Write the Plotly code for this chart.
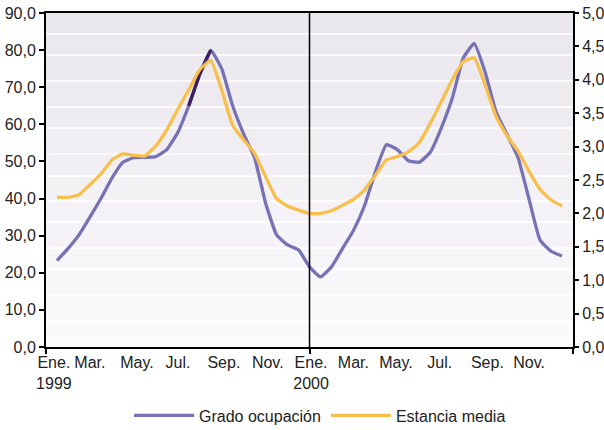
import plotly.graph_objects as go

# ---- data (half-month steps, Jan 1999 .. Dec 2000) ----
months_idx = [i / 2 for i in range(47)]  # 0 = Ene. 1999, 23 = Dic. 2000

grado_ocupacion = [
    23.3, 26.5, 30.2, 35.0, 40.0, 45.5, 49.8, 51.0, 51.1, 51.3,
    53.2, 57.8, 65.0, 73.5, 80.0, 75.0, 65.0, 57.4, 51.0, 38.8,
    30.2, 27.5, 26.2, 21.6, 18.9, 21.6, 26.5, 31.4, 38.0, 47.2,
    54.5, 53.2, 50.2, 49.8, 52.5, 59.0, 67.0, 77.8, 81.8, 74.0,
    63.3, 57.2, 51.0, 39.8, 28.8, 25.8, 24.5,
]

estancia_media = [
    2.24, 2.24, 2.28, 2.43, 2.59, 2.80, 2.89, 2.87, 2.86, 3.01,
    3.25, 3.56, 3.85, 4.15, 4.29, 3.85, 3.32, 3.10, 2.90, 2.55,
    2.22, 2.11, 2.05, 2.00, 2.00, 2.04, 2.12, 2.21, 2.35, 2.57,
    2.80, 2.85, 2.92, 3.06, 3.35, 3.67, 4.00, 4.27, 4.33, 3.92,
    3.45, 3.16, 2.93, 2.63, 2.36, 2.20, 2.11,
]

# dark highlighted stretch of the occupancy line (Jul-Aug 1999)
highlight_start, highlight_end = 12, 15

tick_positions = [-0.14, 1.5, 3.64, 5.51, 7.6, 9.6, 11.57, 13.5, 15.44, 17.43, 19.6, 21.5]
tick_labels = ["Ene.<br>1999", "Mar.", "May.", "Jul.", "Sep.", "Nov.",
               "Ene.<br>2000", "Mar.", "May.", "Jul.", "Sep.", "Nov."]
year_bounds = [-0.5, 11.5, 23.5]

left_ticks = [0, 10, 20, 30, 40, 50, 60, 70, 80, 90]
right_ticks = [0, 0.5, 1, 1.5, 2, 2.5, 3, 3.5, 4, 4.5, 5]

PURPLE = "#7772B6"
DARK = "#3B1F5E"
YELLOW = "#F9BF4C"
FONT = "Liberation Sans, Arial, sans-serif"

fig = go.Figure()
fig.add_trace(go.Scatter(
    x=months_idx, y=grado_ocupacion, mode="lines", name="Grado ocupación",
    line=dict(color=PURPLE, width=3.3, shape="spline", smoothing=0.4),
))
fig.add_trace(go.Scatter(
    x=months_idx[highlight_start:highlight_end], y=grado_ocupacion[highlight_start:highlight_end],
    mode="lines", showlegend=False, hoverinfo="skip",
    line=dict(color=DARK, width=3.3),
))
fig.add_trace(go.Scatter(
    x=months_idx, y=estancia_media, mode="lines", name="Estancia media", yaxis="y2",
    line=dict(color=YELLOW, width=3.3, shape="spline", smoothing=0.4),
))

# background gradient bands (Excel-like); pixel rows of the plot area
plot_top, plot_bottom = 13, 347
band_px = [13, 34, 55, 81, 107, 128, 154, 176, 201, 222, 248, 269, 295, 321, 342, 347]
top_rgb = (233, 230, 236)
bot_rgb = (251, 250, 252)
shapes = []
H = plot_bottom - plot_top
for i in range(len(band_px) - 1):
    y0 = (plot_bottom - band_px[i + 1]) / H
    y1 = (plot_bottom - band_px[i]) / H
    t = ((band_px[i] + band_px[i + 1]) / 2 - plot_top) / H
    c = tuple(round(top_rgb[k] + (bot_rgb[k] - top_rgb[k]) * t) for k in range(3))
    shapes.append(dict(type="rect", xref="paper", yref="paper", x0=0, x1=1, y0=y0, y1=y1,
                       fillcolor="rgb(%d,%d,%d)" % c, line=dict(width=0), layer="below"))
for p in band_px[1:-1]:
    yy = (plot_bottom - p) / H
    shapes.append(dict(type="line", xref="paper", yref="paper", x0=0, x1=1, y0=yy, y1=yy,
                       line=dict(color="white", width=1.5), layer="below"))
# year divider
shapes.append(dict(type="line", xref="x", yref="paper", x0=year_bounds[1], x1=year_bounds[1],
                   y0=0, y1=1, line=dict(color="black", width=1.5)))

fig.update_layout(
    width=604, height=430,
    margin=dict(l=46, r=31, t=13, b=83, autoexpand=False),
    paper_bgcolor="white", plot_bgcolor="white",
    separators=",.",
    font=dict(family=FONT, size=16, color="#222222"),
    shapes=shapes,
    showlegend=True,
    legend=dict(orientation="h", x=0.52, xanchor="center", y=-0.205, yanchor="middle",
                font=dict(size=16), itemwidth=60, bgcolor="rgba(0,0,0,0)"),
    xaxis=dict(
        range=[-0.5, 23.5], tickmode="array", tickvals=tick_positions, ticktext=tick_labels,
        ticks="", tickangle=0, automargin=False, showgrid=False, zeroline=False,
        showline=True, linecolor="black", linewidth=2, mirror=True,
        minor=dict(tickmode="array", tickvals=year_bounds, ticks="outside", ticklen=5,
                   tickcolor="black", tickwidth=1.5, showgrid=False),
        tickfont=dict(size=16),
    ),
    yaxis=dict(
        range=[0, 90], tickmode="array", tickvals=left_ticks, tickformat=".1f",
        ticks="outside", ticklen=5, tickcolor="black", tickwidth=1.5, automargin=False,
        showgrid=False, zeroline=False, showline=True, linecolor="black", linewidth=2,
        tickfont=dict(size=16),
    ),
    yaxis2=dict(
        range=[0, 5], tickmode="array", tickvals=right_ticks, tickformat=".1f",
        overlaying="y", side="right", automargin=False,
        ticks="outside", ticklen=4, tickcolor="black", tickwidth=1.5,
        showgrid=False, zeroline=False, showline=True, linecolor="black", linewidth=2,
        tickfont=dict(size=16),
    ),
)

# remove the browser's default 8px page margin so the 604x430 figure fills the window
fig.write_html("out.html", config={"displayModeBar": False},
               post_script="document.body.style.margin='0';")
